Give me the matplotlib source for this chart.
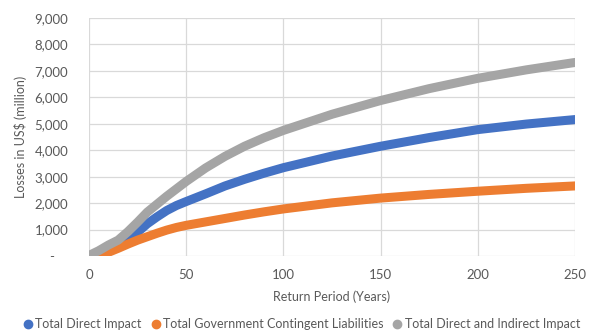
import matplotlib.pyplot as plt
from matplotlib.ticker import FuncFormatter, MultipleLocator

plt.rcParams['font.family'] = ['Lato', 'DejaVu Sans']

# Return periods (years) and loss estimates (US$ million)
return_period = [0, 5, 10, 15, 20, 25, 30, 35, 40, 45, 50, 60, 70, 80, 90, 100,
                 125, 150, 175, 200, 225, 250]
direct_impact = [0, 100, 220, 380, 600, 900, 1220, 1480, 1720, 1910, 2060, 2350, 2650, 2900, 3130, 3340,
                 3780, 4150, 4480, 4780, 4990, 5160]
gov_contingent = [0, 60, 140, 290, 450, 600, 730, 860, 980, 1080, 1160, 1290, 1420, 1550, 1670, 1780,
                  2010, 2190, 2330, 2450, 2560, 2650]
direct_indirect = [20, 200, 415, 600, 920, 1280, 1660, 1960, 2260, 2540, 2820, 3330, 3770, 4150, 4470, 4750,
                   5360, 5880, 6330, 6720, 7040, 7320]

series = [
    ('Total Direct Impact', direct_impact, '#4472C4'),
    ('Total Government Contingent Liabilities', gov_contingent, '#ED7D31'),
    ('Total Direct and Indirect Impact', direct_indirect, '#A5A5A5'),
]

fig = plt.figure(figsize=(5.9, 3.33), dpi=100)
ax = fig.add_axes([0.1508, 0.2312, 0.8238, 0.7147])

for name, vals, col in series:
    ax.plot(return_period, vals, color=col, lw=6.5, solid_capstyle='round',
            solid_joinstyle='round', label=name)

ax.set_xlim(0, 250)
ax.set_ylim(0, 9000)
ax.xaxis.set_major_locator(MultipleLocator(50))
ax.yaxis.set_major_locator(MultipleLocator(1000))
ax.yaxis.set_major_formatter(FuncFormatter(lambda v, p: '-    ' if v == 0 else f'{v:,.0f}'))

ax.grid(True, color='#d9d9d9', lw=0.9)
ax.set_axisbelow(True)
for s in ax.spines.values():
    s.set_visible(False)
ax.tick_params(length=0, labelsize=9.5, colors='#595959')
ax.tick_params(axis='y', pad=15)
ax.tick_params(axis='x', pad=9)

ax.set_xlabel('Return Period (Years)', fontsize=9, color='#595959', labelpad=7)
ax.set_ylabel('Losses in US$ (million)', fontsize=9, color='#595959', labelpad=5)

handles = [plt.Line2D([], [], ls='none', marker='o', ms=6, color=c) for _, _, c in series]
fig.legend(handles, [n for n, _, _ in series], loc='center', bbox_to_anchor=(0.51, 0.027),
           ncol=3, frameon=False, fontsize=9, labelcolor='#595959',
           handletextpad=0.1, columnspacing=0.6, handlelength=1.0)

fig.savefig('out.png', dpi=100)
